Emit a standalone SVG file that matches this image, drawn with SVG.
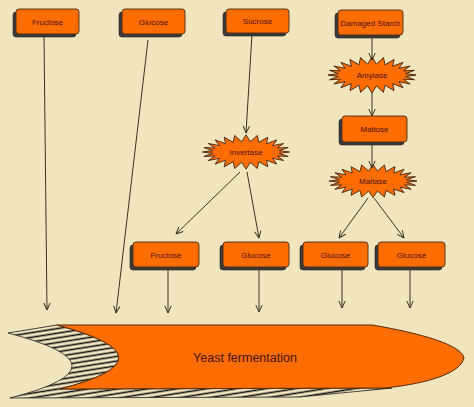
<svg xmlns="http://www.w3.org/2000/svg" xmlns:xlink="http://www.w3.org/1999/xlink" width="474" height="407" viewBox="0 0 474 407">
<style>
.box{fill:#FF6C00;stroke:#4a2a12;stroke-width:0.9}
.shadow{fill:#3a3a3a;stroke:#222;stroke-width:0.6}
.burst{fill:#FF6C00;stroke:#3a2010;stroke-width:0.9;stroke-linejoin:miter}
.lbl{font-family:"Liberation Sans",Arial,sans-serif;font-size:8px;fill:#4a1006;text-anchor:middle}
.big{font-family:"Liberation Sans",Arial,sans-serif;font-size:12.5px;fill:#3f1206;text-anchor:middle}
.conn line{stroke:#3a3222;stroke-width:1;marker-end:url(#arr)}
</style>
<defs>
<marker id="arr" viewBox="0 0 8 8" refX="7.5" refY="4" markerWidth="8" markerHeight="8" markerUnits="userSpaceOnUse" orient="auto">
<path d="M0.5,0.8 L7.5,4 L0.5,7.2" fill="none" stroke="#3a3222" stroke-width="1"/>
</marker>
<pattern id="hatch" patternUnits="userSpaceOnUse" width="30" height="4.6" patternTransform="rotate(-9)">
<rect width="30" height="4.6" fill="#F3E7C2"/>
<line x1="0" y1="2.3" x2="30" y2="2.3" stroke="#111" stroke-width="1.6"/>
</pattern>
<polygon id="burst" class="burst" points="44,0 33.7,1.4 42.5,4.7 31.4,4.2 38.1,9 27,6.7 31.1,12.7 20.7,8.7 22,15.6 13,10.2 11.4,17.4 4.4,10.9 0,18 -4.4,10.9 -11.4,17.4 -13,10.2 -22,15.6 -20.7,8.7 -31.1,12.7 -27,6.7 -38.1,9 -31.4,4.2 -42.5,4.7 -33.7,1.4 -44,0 -33.7,-1.4 -42.5,-4.7 -31.4,-4.2 -38.1,-9 -27,-6.7 -31.1,-12.7 -20.7,-8.7 -22,-15.6 -13,-10.2 -11.4,-17.4 -4.4,-10.9 0,-18 4.4,-10.9 11.4,-17.4 13,-10.2 22,-15.6 20.7,-8.7 31.1,-12.7 27,-6.7 38.1,-9 31.4,-4.2 42.5,-4.7 33.7,-1.4"/>
</defs>
<rect width="474" height="407" fill="#F1E5BE"/>

<g id="fermentation">
<path d="M8,333 L57,325 Q179,358 60,389 L392,388 L300,397 L10,398 Q135,366 8,333 Z" fill="url(#hatch)" stroke="#222" stroke-width="0.8"/>
<path d="M57,325 L372,325 C420,333 462,345 464,358 C461,372 432,383 385,388 L60,389 Q179,358 57,325 Z" fill="#FF6C00" stroke="#5a2a0a" stroke-width="1"/>
<text class="big" x="245" y="362">Yeast fermentation</text>
</g>

<g id="fructose-top">
<rect class="shadow" x="13" y="12" width="63" height="25" rx="3"/>
<rect class="box" x="16" y="9" width="63" height="25" rx="3"/>
<text class="lbl" x="47.5" y="24.5">Fructose</text>
</g>
<g id="glucose-top">
<rect class="shadow" x="119" y="12" width="63" height="25" rx="3"/>
<rect class="box" x="122" y="9" width="63" height="25" rx="3"/>
<text class="lbl" x="153.5" y="24.5">Glucose</text>
</g>
<g id="sucrose">
<rect class="shadow" x="223" y="12" width="63" height="24" rx="3"/>
<rect class="box" x="226" y="9" width="63" height="24" rx="3"/>
<text class="lbl" x="257.5" y="24">Sucrose</text>
</g>
<g id="damaged-starch">
<rect class="shadow" x="335" y="13" width="65" height="25" rx="3"/>
<rect class="box" x="338" y="10" width="65" height="25" rx="3"/>
<text class="lbl" x="370.5" y="25.5">Damaged Starch</text>
</g>
<g id="amylase">
<use xlink:href="#burst" href="#burst" transform="translate(372,75)"/>
<text class="lbl" x="372" y="78">Amylase</text>
</g>
<g id="maltose">
<rect class="shadow" x="339" y="119" width="65" height="26" rx="3"/>
<rect class="box" x="342" y="116" width="65" height="26" rx="3"/>
<text class="lbl" x="374.5" y="132">Maltose</text>
</g>
<g id="maltase">
<use xlink:href="#burst" href="#burst" transform="translate(373,181) scale(1,0.92)"/>
<text class="lbl" x="373" y="184">Maltase</text>
</g>
<g id="invertase">
<use xlink:href="#burst" href="#burst" transform="translate(246,152) scale(0.99,0.95)"/>
<text class="lbl" x="246" y="155">Invertase</text>
</g>
<g id="fructose-low">
<rect class="shadow" x="130" y="245" width="66" height="25" rx="3"/>
<rect class="box" x="133" y="242" width="66" height="25" rx="3"/>
<text class="lbl" x="166" y="257.5">Fructose</text>
</g>
<g id="glucose-low1">
<rect class="shadow" x="220" y="245" width="66" height="25" rx="3"/>
<rect class="box" x="223" y="242" width="66" height="25" rx="3"/>
<text class="lbl" x="256" y="257.5">Glucose</text>
</g>
<g id="glucose-low2">
<rect class="shadow" x="300" y="245" width="65" height="25" rx="3"/>
<rect class="box" x="303" y="242" width="65" height="25" rx="3"/>
<text class="lbl" x="335.5" y="257.5">Glucose</text>
</g>
<g id="glucose-low3">
<rect class="shadow" x="375" y="245" width="67" height="25" rx="3"/>
<rect class="box" x="378" y="242" width="67" height="25" rx="3"/>
<text class="lbl" x="411.5" y="257.5">Glucose</text>
</g>

<g id="connectors" class="conn">
<line x1="44" y1="35" x2="47" y2="310"/>
<line x1="148" y1="40" x2="116" y2="313"/>
<line x1="252" y1="34" x2="246" y2="133"/>
<line x1="372" y1="36" x2="372" y2="60"/>
<line x1="372" y1="93" x2="372" y2="116"/>
<line x1="372" y1="143" x2="372" y2="168"/>
<line x1="240" y1="172" x2="176" y2="234"/>
<line x1="247" y1="172" x2="259" y2="238"/>
<line x1="368" y1="198" x2="339" y2="238"/>
<line x1="374" y1="198" x2="404" y2="238"/>
<line x1="168" y1="268" x2="168" y2="313"/>
<line x1="259" y1="268" x2="259" y2="312"/>
<line x1="342" y1="268" x2="342" y2="308"/>
<line x1="410" y1="268" x2="410" y2="308"/>
</g>
</svg>
